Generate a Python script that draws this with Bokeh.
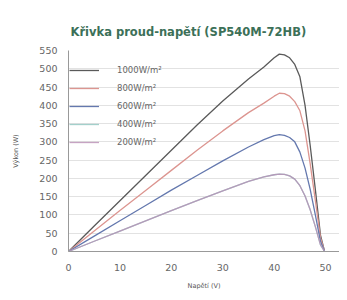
from bokeh.plotting import figure
from bokeh.models import Legend, LegendItem, Range1d, SingleIntervalTicker
from bokeh.embed import file_html
from bokeh.resources import INLINE

title_text = "Křivka proud-napětí (SP540M-72HB)"
x_label = "Napětí (V)"
y_label = "Výkon (W)"

voltage = [0, 5, 10, 15, 20, 25, 30, 35, 38, 40, 41, 42, 43, 44, 45, 46, 47, 48, 49, 49.8]
p1000 = [0, 70, 139, 208, 277, 346, 412, 472, 505, 530, 540, 538, 530, 512, 478, 400, 290, 170, 45, 0]
p800 = [0, 56, 112, 167, 222, 277, 330, 380, 406, 425, 433, 432, 425, 410, 385, 330, 240, 140, 38, 0]
p600 = [0, 42, 84, 126, 168, 208, 248, 286, 306, 317, 320, 318, 312, 300, 272, 228, 170, 100, 28, 0]
p400 = [0, 28, 56, 84, 112, 139, 166, 192, 204, 210, 212, 211, 207, 198, 180, 152, 114, 68, 18, 0]
p200 = [0, 28, 56, 84, 112, 139, 166, 192, 204, 210, 212, 211, 207, 198, 180, 152, 114, 68, 18, 0]

series_labels = ["1000W/m²", "800W/m²", "600W/m²", "400W/m²", "200W/m²"]
series_values = [p1000, p800, p600, p400, p200]
series_colors = ["#5a5a5a", "#dc9590", "#6478ae", "#8cc4be", "#b88cb4"]
series_alpha = [1.0, 1.0, 1.0, 0.8, 0.8]

p = figure(width=339, height=292, output_backend="svg", toolbar_location=None,
           x_range=Range1d(0, 52.7), y_range=Range1d(0, 550),
           min_border_left=68, min_border_right=0, min_border_top=50, min_border_bottom=37)

p.title.text = title_text
p.title.align = "left"
p.title.offset = 2
p.title.text_font = "DejaVu Sans"
p.title.text_font_size = "11.5px"
p.title.text_font_style = "bold"
p.title.text_color = "#3c7058"
p.title.standoff = 24

p.outline_line_color = None
p.xgrid.grid_line_color = None
p.ygrid.grid_line_color = "#e2e2e2"
p.background_fill_color = "white"

p.xaxis.ticker = SingleIntervalTicker(interval=10)
p.yaxis.ticker = SingleIntervalTicker(interval=50)
for ax in (p.xaxis, p.yaxis):
    ax.major_tick_line_color = None
    ax.minor_tick_line_color = None
    ax.axis_line_color = "#999999"
    ax.major_label_text_font = "DejaVu Sans"
    ax.major_label_text_font_size = "9.5px"
    ax.major_label_text_color = "#666666"
    ax.axis_label_text_font = "DejaVu Sans"
    ax.axis_label_text_font_size = "6.5px"
    ax.axis_label_text_font_style = "normal"
    ax.axis_label_text_color = "#555555"
p.xaxis.axis_label = x_label
p.yaxis.axis_label = y_label
p.xaxis.major_label_standoff = 6
p.yaxis.major_label_standoff = 5
p.xaxis.axis_label_standoff = 8
p.yaxis.axis_label_standoff = 16

items = []
for lab, vals, col, a in zip(series_labels, series_values, series_colors, series_alpha):
    r = p.line(voltage, vals, line_color=col, line_width=1.3, line_alpha=a)
    items.append(LegendItem(label=lab, renderers=[r]))

legend = Legend(items=items, location=(1, 101), margin=0, padding=4, spacing=2,
                glyph_width=30, glyph_height=16, label_height=16, label_standoff=18,
                label_text_font="DejaVu Sans", label_text_font_size="8.5px",
                label_text_color="#666666", border_line_color=None,
                background_fill_alpha=0.0)
p.add_layout(legend, "center")

open("out.html", "w").write(file_html(p, INLINE))
